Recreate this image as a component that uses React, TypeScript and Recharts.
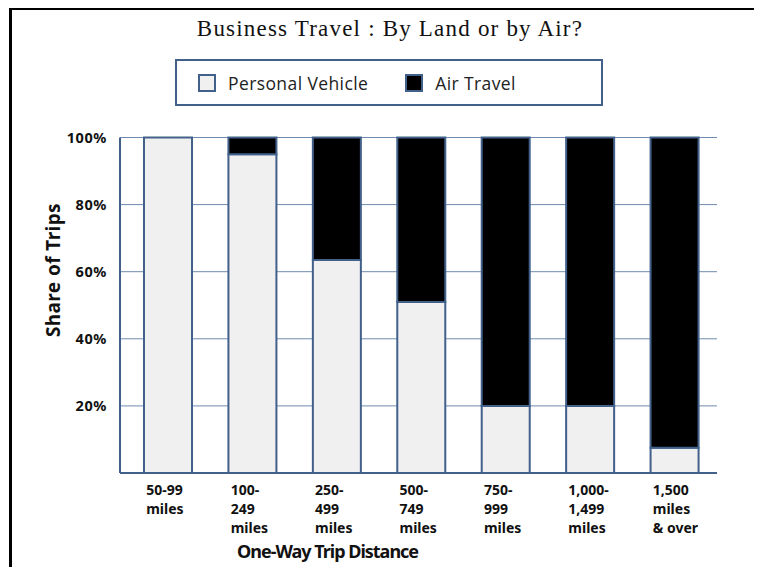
import React from "react";
import { BarChart, Bar, XAxis, YAxis, CartesianGrid, Legend } from "recharts";

const categories = [
  "50-99\nmiles",
  "100-\n249\nmiles",
  "250-\n499\nmiles",
  "500-\n749\nmiles",
  "750-\n999\nmiles",
  "1,000-\n1,499\nmiles",
  "1,500\nmiles\n& over",
];
const personalVehicle = [100, 95, 63.5, 51, 20, 20, 7.5];
const airTravel = [0, 5, 36.5, 49, 80, 80, 92.5];
const yTicks = [20, 40, 60, 80, 100];

const data = categories.map((name, i) => ({
  name,
  personal: personalVehicle[i],
  air: airTravel[i],
}));

const BLUE = "#41608a";
const LABEL_FONT = "'Noto Sans', 'Open Sans', sans-serif";

function DistanceTick({ x, y, payload }: any) {
  const lines = String(payload.value).split("\n");
  return (
    <text
      x={x - 22}
      y={y}
      textAnchor="start"
      fontFamily={LABEL_FONT}
      fontWeight={700}
      fontSize={14}
      fill="#111"
    >
      {lines.map((line, i) => (
        <tspan key={i} x={x - 22} dy={i === 0 ? 22 : 19}>
          {line}
        </tspan>
      ))}
    </text>
  );
}

// axis title on the left, placed by hand like the original
function ShareLabel() {
  return (
    <text
      x={53}
      y={270}
      transform="rotate(-90, 53, 270)"
      textAnchor="middle"
      dominantBaseline="central"
      fontFamily={LABEL_FONT}
      fontWeight={700}
      fontSize={19}
      letterSpacing={0.4}
      fill="#111"
    >
      Share of Trips
    </text>
  );
}

function LegendBox() {
  const item = (fill: string, label: string) => (
    <div style={{ display: "flex", alignItems: "center" }}>
      <span
        style={{
          width: 14,
          height: 14,
          background: fill,
          border: `2px solid ${BLUE}`,
          display: "inline-block",
        }}
      />
      <span style={{ marginLeft: 12 }}>{label}</span>
    </div>
  );
  return (
    <div
      style={{
        display: "flex",
        alignItems: "center",
        gap: 37,
        height: "100%",
        paddingLeft: 21,
        fontFamily: "'Open Sans', sans-serif",
        fontSize: 17.5,
        letterSpacing: 0.4,
        color: "#222",
      }}
    >
      {item("#f0f0f0", "Personal Vehicle")}
      {item("#000000", "Air Travel")}
    </div>
  );
}

export default function App() {
  return (
    <div style={{ position: "relative", width: 762, height: 575, margin: -8, overflow: "hidden", background: "#fff" }}>
      <div
        style={{
          position: "absolute",
          left: 9,
          top: 7,
          width: 751,
          height: 600,
          border: "3px solid #000",
          boxSizing: "border-box",
        }}
      />
      <div
        style={{
          position: "absolute",
          top: 16,
          left: 0,
          width: 780,
          textAlign: "center",
          fontFamily: "'Liberation Serif', serif",
          fontSize: 23,
          letterSpacing: 1.2,
          color: "#111",
        }}
      >
        Business Travel : By Land or by Air?
      </div>

      <div style={{ position: "absolute", left: 0, top: 0 }}>
        <BarChart
          width={762}
          height={575}
          data={data}
          margin={{ top: 137.5, right: 45, bottom: 42, left: 20 }}
          barSize={48}
        >
          <CartesianGrid vertical={false} stroke="#6f8ab0" strokeWidth={1} />
          <XAxis
            dataKey="name"
            interval={0}
            height={60}
            padding={{ left: 6, right: 0 }}
            tickLine={false}
            tickSize={0}
            tickMargin={0}
            axisLine={{ stroke: BLUE, strokeWidth: 2 }}
            tick={<DistanceTick />}
            label={{
              value: "One-Way Trip Distance",
              position: "insideBottomLeft",
              offset: 0,
              dx: 117,
              dy: 25,
              style: { fontFamily: LABEL_FONT, fontWeight: 700, fontSize: 18, letterSpacing: -1, fill: "#111" },
            }}
          />
          <XAxis
            xAxisId="top"
            dataKey="name"
            orientation="top"
            height={0}
            tick={false}
            tickLine={false}
            axisLine={{ stroke: BLUE, strokeWidth: 2 }}
          />
          <YAxis
            width={100}
            domain={[0, 100]}
            ticks={yTicks}
            tickFormatter={(v: number) => `${v}%`}
            tickLine={false}
            tickMargin={7}
            axisLine={{ stroke: BLUE, strokeWidth: 2 }}
            tick={{ fontFamily: LABEL_FONT, fontWeight: 700, fontSize: 14.5, letterSpacing: 0.6, fill: "#111" }}
            label={<ShareLabel />}
          />
          <YAxis
            yAxisId="right"
            orientation="right"
            width={0}
            domain={[0, 100]}
            tick={false}
            tickLine={false}
            axisLine={{ stroke: BLUE, strokeWidth: 2 }}
          />
          <Legend
            verticalAlign="middle"
            align="center"
            layout="horizontal"
            content={<LegendBox />}
            wrapperStyle={{
              position: "absolute",
              left: 175,
              top: 59,
              width: 428,
              height: 47,
              border: `2px solid ${BLUE}`,
              boxSizing: "border-box",
              background: "#fff",
            }}
          />
          <Bar
            dataKey="personal"
            name="Personal Vehicle"
            stackId="a"
            fill="#f0f0f0"
            stroke={BLUE}
            strokeWidth={2}
            isAnimationActive={false}
          />
          <Bar
            dataKey="air"
            name="Air Travel"
            stackId="a"
            fill="#000000"
            stroke={BLUE}
            strokeWidth={2}
            isAnimationActive={false}
          />
        </BarChart>
      </div>
    </div>
  );
}
